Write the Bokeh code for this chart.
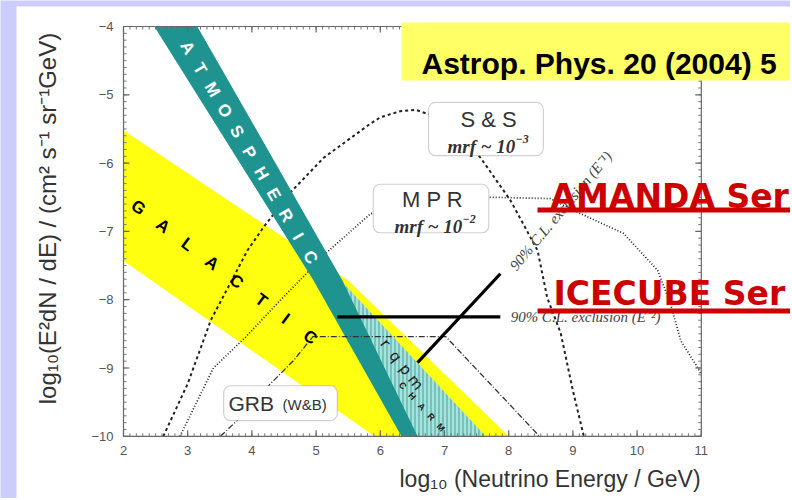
import numpy as np
from bokeh.plotting import figure
from bokeh.models import Range1d, Label, BoxAnnotation
from bokeh.core.properties import value
from bokeh.embed import file_html
from bokeh.resources import INLINE

# ---------------- data ----------------
x_ticks = [2, 3, 4, 5, 6, 7, 8, 9, 10, 11]
y_ticks = [-10, -9, -8, -7, -6, -5, -4]

# galactic band (yellow)
gal_x = [2.0, 5.5, 8.0, 5.91, 2.0]
gal_y = [-5.52, -7.72, -10.0, -10.0, -7.43]

# atmospheric band (teal)
atm_x = [2.48, 3.15, 3.99, 5.41, 6.58, 6.33, 4.96, 3.40]
atm_y = [-4.0, -4.0, -5.38, -7.72, -10.0, -10.0, -7.72, -5.38]

# prompt charm band (hatched)
charm_x = [5.42, 7.64, 6.5]
charm_y = [-7.75, -10.0, -10.0]

# S & S (mrf ~ 1e-3), dashed
ss_x = [2.62, 3.0, 3.36, 3.93, 4.18, 4.60, 5.12, 5.85, 6.0, 6.31, 6.55, 6.8, 7.2, 7.56, 8.03, 8.45, 8.60, 8.81, 9.0, 9.17]
ss_y = [-10.0, -9.23, -8.30, -7.28, -6.94, -6.43, -5.92, -5.42, -5.33, -5.24, -5.22, -5.3, -5.55, -5.92, -6.55, -7.28, -7.97, -8.49, -9.33, -10.0]

# MPR (mrf ~ 1e-2), dotted
mpr_x = [2.88, 3.4, 3.9, 4.4, 5.2, 5.85, 6.8, 7.72, 8.65, 9.12, 9.79, 10.32, 10.52, 10.68, 10.94, 11.0]
mpr_y = [-10.0, -9.0, -8.55, -8.05, -7.28, -6.74, -6.55, -6.5, -6.52, -6.74, -7.03, -7.57, -8.06, -8.6, -8.99, -9.1]

# GRB (W&B), dash-dot
grb_x = [3.51, 3.77, 4.29, 4.65, 4.95, 7.02, 8.48]
grb_y = [-10.0, -9.77, -9.23, -8.89, -8.54, -8.54, -10.0]

# 90% C.L. exclusion limits
e2_x = [5.33, 7.87]
e2_y = [-8.25, -8.25]
e1_x = [6.58, 7.87]
e1_y = [-8.92, -7.62]

# ---------------- layout helpers (pixel -> data, for placing annotations) ----------------
W, H = 790, 498
XPX0, XPPU = 123.0, 64.2      # pixel of x=2, pixels per unit
YPX0, YPPU = 26.0, 68.3       # pixel of y=-4, pixels per unit
X_MIN, Y_MAX = 2.0, -4.0

def px2x(px):
    return X_MIN + (px - XPX0) / XPPU

def py2y(py):
    return Y_MAX - (py - YPX0) / YPPU

def dx(px):
    return px / XPPU

def dy(py):
    return py / YPPU

p = figure(width=W, height=H, x_range=Range1d(px2x(0), px2x(W)), y_range=Range1d(py2y(H), py2y(0)),
           output_backend="svg", toolbar_location=None, title=None,
           x_axis_location=None, y_axis_location=None,
           min_border=0, min_border_left=0, min_border_right=0, min_border_top=0, min_border_bottom=0,
           background_fill_color="#cdcdfd", border_fill_color="#cdcdfd")
p.grid.visible = False
p.outline_line_color = None

# white slide panel
p.quad(left=[px2x(16)], right=[px2x(W + 5)], top=[py2y(6)], bottom=[py2y(H + 5)],
       fill_color="white", line_color=None)

# bands
p.patch(gal_x, gal_y, fill_color="#ffff0f", line_color=None)
p.patch(charm_x, charm_y, fill_color="#a8e2dc", line_color=None,
        hatch_pattern="|", hatch_color="#2b8f8a", hatch_scale=4, hatch_weight=0.8)

# curves under teal band
p.line(ss_x, ss_y, line_color="#222222", line_width=2, line_dash="3 3")
p.line(mpr_x, mpr_y, line_color="#222222", line_width=1.7, line_dash="1 2")

p.patch(atm_x, atm_y, fill_color="#1f938f", line_color=None)

p.line(grb_x, grb_y, line_color="#333333", line_width=1.3, line_dash="6 2 1 2")
p.line(e2_x, e2_y, line_color="black", line_width=3.2)
p.line(e1_x, e1_y, line_color="black", line_width=3.2)

# rotated letter labels along the bands
def letters(word, x0, y0, x1, y1, angle_deg, size, color, font="Liberation Sans", style="bold"):
    n = len(word)
    xs = np.linspace(x0, x1, n)
    ys = np.linspace(y0, y1, n)
    p.text(x=xs, y=ys, text=list(word), angle=np.deg2rad(angle_deg),
           text_align="center", text_baseline="middle",
           text_font=value(font), text_font_size=size, text_color=color,
           text_font_style=style)

letters("ATMOSPHERIC", 3.0, -4.31, 4.91, -7.38, -59.6, "17px", "white")
letters("GALACTIC", 2.23, -6.65, 4.91, -8.55, -37.0, "17px", "black")
letters("rqpm", 6.08, -8.64, 6.55, -9.21, -52.0, "15px", "#222222", font="DejaVu Sans", style="normal")
letters("CHARM", 6.35, -9.26, 6.94, -9.87, -48.0, "9px", "#222222")

# ---------------- frame, ticks and tick labels ----------------
x_lo, x_hi = x_ticks[0], x_ticks[-1]
y_lo, y_hi = y_ticks[0], y_ticks[-1]
p.quad(left=[x_lo], right=[x_hi], bottom=[y_lo], top=[y_hi], fill_color=None,
       line_color="#666666", line_width=1.2)

xmin = np.round(np.arange(x_lo, x_hi + 1e-9, 0.1), 3)
ymin = np.round(np.arange(y_lo, y_hi + 1e-9, 0.1), 3)
# minor ticks (inside, all four sides)
p.segment(x0=xmin, y0=np.full(len(xmin), y_lo), x1=xmin, y1=np.full(len(xmin), y_lo + dy(3)),
          line_color="#777777", line_width=1)
p.segment(x0=xmin, y0=np.full(len(xmin), y_hi), x1=xmin, y1=np.full(len(xmin), y_hi - dy(3)),
          line_color="#777777", line_width=1)
p.segment(x0=np.full(len(ymin), x_lo), y0=ymin, x1=np.full(len(ymin), x_lo + dx(3)), y1=ymin,
          line_color="#777777", line_width=1)
p.segment(x0=np.full(len(ymin), x_hi), y0=ymin, x1=np.full(len(ymin), x_hi - dx(3)), y1=ymin,
          line_color="#777777", line_width=1)
# major ticks
xt = np.array(x_ticks, dtype=float)
yt = np.array(y_ticks, dtype=float)
p.segment(x0=xt, y0=np.full(len(xt), y_lo), x1=xt, y1=np.full(len(xt), y_lo + dy(6)),
          line_color="#666666", line_width=1.2)
p.segment(x0=xt, y0=np.full(len(xt), y_hi), x1=xt, y1=np.full(len(xt), y_hi - dy(6)),
          line_color="#666666", line_width=1.2)
p.segment(x0=np.full(len(yt), x_lo), y0=yt, x1=np.full(len(yt), x_lo + dx(6)), y1=yt,
          line_color="#666666", line_width=1.2)
p.segment(x0=np.full(len(yt), x_hi), y0=yt, x1=np.full(len(yt), x_hi - dx(6)), y1=yt,
          line_color="#666666", line_width=1.2)
# tick labels
p.text(x=xt, y=np.full(len(xt), y_lo - dy(10)), text=[str(v) for v in x_ticks],
       text_align="center", text_baseline="top", text_font=value("Liberation Sans"),
       text_font_size="13px", text_color="#555555")
p.text(x=np.full(len(yt), x_lo - dx(10)), y=yt, text=[str(v).replace("-", "\u2212") for v in y_ticks],
       text_align="right", text_baseline="middle", text_font=value("Liberation Sans"),
       text_font_size="13px", text_color="#555555")

# ---------------- boxed model labels ----------------
for (l, r, t, b) in [(6.75, 8.54, -5.11, -5.89), (5.89, 7.69, -6.31, -7.02), (3.56, 5.33, -9.26, -9.77)]:
    p.add_layout(BoxAnnotation(left=l, right=r, top=t, bottom=b, fill_color="white", fill_alpha=1.0,
                               line_color="#666666", line_width=1.2, border_radius=7))

def lab(x, y, text, size, font="Liberation Sans", style="normal", color="#333333",
        align="center", baseline="middle", angle=0.0):
    p.add_layout(Label(x=x, y=y, text=text, text_font_size=size, text_font=font,
                       text_font_style=style, text_color=color, text_align=align,
                       text_baseline=baseline, angle=angle))

lab(px2x(488), py2y(119), "S & S", "22px")
lab(px2x(447), py2y(146), "mrf ~ 10", "19px", font="Liberation Serif", style="bold italic",
    align="left", baseline="alphabetic")
lab(px2x(515), py2y(138), "\u22123", "12px", font="Liberation Serif", style="bold italic",
    align="left", baseline="alphabetic")
lab(px2x(432), py2y(199), "M P R", "22px")
lab(px2x(394), py2y(226), "mrf ~ 10", "19px", font="Liberation Serif", style="bold italic",
    align="left", baseline="alphabetic")
lab(px2x(462), py2y(218), "\u22122", "12px", font="Liberation Serif", style="bold italic",
    align="left", baseline="alphabetic")
lab(px2x(228), py2y(403), "GRB", "21px", align="left")
lab(px2x(282), py2y(404), "(W&B)", "15px", align="left")
lab(8.03, -8.25, "90% C.L. exclusion (E\u207b\u00b2)", "15px", font="Liberation Serif",
    style="italic", color="#444444", align="left")
lab(8.06, -7.54, "90% C.L. exclusion (E\u207b\u00b9)", "15px", font="Liberation Serif",
    style="italic", color="#444444", align="left", angle=np.deg2rad(50))

# axis titles
lab(px2x(399), py2y(478), "log\u2081\u2080 (Neutrino Energy / GeV)", "23px", color="#333333", align="left")
lab(px2x(47), py2y(218), "log\u2081\u2080(E\u00b2dN / dE) / (cm\u00b2 s\u207b\u00b9 sr\u207b\u00b9GeV)", "24px",
    color="#333333", angle=np.pi / 2)

# ---------------- slide overlays ----------------
p.add_layout(BoxAnnotation(left=px2x(401), right=px2x(W + 10), top=py2y(22), bottom=py2y(80),
                           fill_color="#ffff66", fill_alpha=1.0, line_color=None))
lab(px2x(421), py2y(63), "Astrop. Phys. 20 (2004) 5", "30px", style="bold", color="black",
    align="left", baseline="alphabetic")
lab(px2x(550), py2y(196), "AMANDA Ser", "33px", font="DejaVu Sans", style="bold", color="#cc0000",
    align="left", baseline="alphabetic")
lab(px2x(553), py2y(293), "ICECUBE Ser", "33px", font="DejaVu Sans", style="bold", color="#cc0000",
    align="left", baseline="alphabetic")
p.add_layout(BoxAnnotation(left=px2x(537), right=px2x(W + 10), top=py2y(207), bottom=py2y(212),
                           fill_color="#cc0000", fill_alpha=1.0, line_color=None))
p.add_layout(BoxAnnotation(left=px2x(537), right=px2x(W + 10), top=py2y(308), bottom=py2y(313),
                           fill_color="#cc0000", fill_alpha=1.0, line_color=None))

open("out.html", "w").write(file_html(p, INLINE))
